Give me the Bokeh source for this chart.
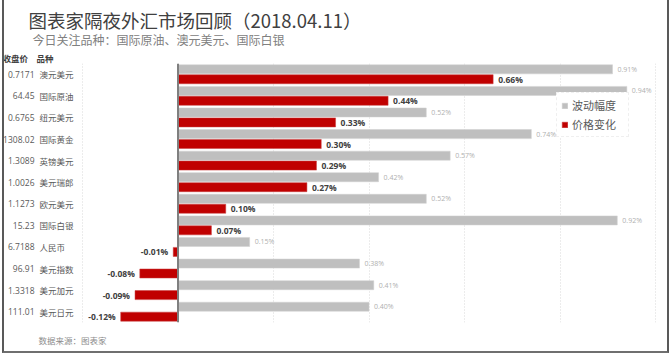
from bokeh.plotting import figure
from bokeh.models import (ColumnDataSource, FactorRange, Range1d, FixedTicker, Span,
                          LabelSet, Legend, LegendItem, Title, InlineStyleSheet)
from bokeh.transform import dodge
from bokeh.core.properties import value
from bokeh.embed import file_html
from bokeh.resources import INLINE

categories = ["澳元美元", "国际原油", "纽元美元", "国际黄金", "英镑美元", "美元瑞郎",
              "欧元美元", "国际白银", "人民币", "美元指数", "美元加元", "美元日元"]
prices = ["0.7171", "64.45", "0.6765", "1308.02", "1.3089", "1.0026",
          "1.1273", "15.23", "6.7188", "96.91", "1.3318", "111.01"]
volatility = [0.91, 0.94, 0.52, 0.74, 0.57, 0.42, 0.52, 0.92, 0.15, 0.38, 0.41, 0.40]
change = [0.66, 0.44, 0.33, 0.30, 0.29, 0.27, 0.10, 0.07, -0.01, -0.08, -0.09, -0.12]
x_ticks = [-0.2, 0.0, 0.2, 0.4, 0.6, 0.8, 1.0]

title = "图表家隔夜外汇市场回顾（2018.04.11）"
subtitle = "今日关注品种：国际原油、澳元美元、国际白银"
header = "收盘价　品种"
footer = "数据来源：图表家"

FONT = "Noto Sans CJK SC"
GRAY = "#BFBFBF"
RED = "#C00000"

W, H = 671, 354
PL, PR, FT, FB = 82, 655, 63, 323   # plot-area edges on the canvas
k = (PR - PL) / (x_ticks[-1] - x_ticks[0])   # pixels per 1 %

src = ColumnDataSource(dict(
    cat=categories, price=prices, vol=volatility, chg=change,
    vol_lbl=[f"{v:.2f}%" for v in volatility],
))
pos = [i for i, c in enumerate(change) if c >= 0]
neg = [i for i, c in enumerate(change) if c < 0]
src_pos = ColumnDataSource(dict(cat=[categories[i] for i in pos], chg=[change[i] for i in pos],
                                lbl=[f"{change[i]:.2f}%" for i in pos]))
src_neg = ColumnDataSource(dict(cat=[categories[i] for i in neg], chg=[change[i] for i in neg],
                                lbl=[f"{change[i]:.2f}%" for i in neg]))

p = figure(width=W, height=H, output_backend="svg", toolbar_location=None,
           y_range=FactorRange(factors=list(reversed(categories))),
           x_range=Range1d(x_ticks[0] - PL / k, x_ticks[-1] + (W - PR) / k),
           min_border_left=0, min_border_right=0, min_border_top=FT, min_border_bottom=H - FB)
p.outline_line_color = None
p.background_fill_color = "white"
p.border_fill_color = "white"
p.xaxis.visible = False
p.yaxis.visible = False
p.ygrid.grid_line_color = None
p.xgrid.ticker = FixedTicker(ticks=x_ticks)
p.xgrid.grid_line_color = "#D9D9D9"
p.xgrid.grid_line_dash = "1 2"
p.xgrid.grid_line_width = 1

g = p.hbar(y=dodge("cat", 0.23, range=p.y_range), right="vol", left=0, height=0.42,
           source=src, fill_color=GRAY, line_color="#D0D0D0", line_width=0.5)
r = p.hbar(y=dodge("cat", -0.23, range=p.y_range), right="chg", left=0, height=0.42,
           source=src, fill_color=RED, line_color="#C84040", line_width=0.5)

p.add_layout(Span(location=0, dimension="height", line_color="#7F7F7F", line_width=2))

# value labels
p.add_layout(LabelSet(x="vol", y=dodge("cat", 0.23, range=p.y_range), text="vol_lbl", source=src,
                      x_offset=5, text_font=value("Open Sans"), text_font_size="7px",
                      text_color="#B0B0B0", text_baseline="middle"))
p.add_layout(LabelSet(x="chg", y=dodge("cat", -0.23, range=p.y_range), text="lbl", source=src_pos,
                      x_offset=5, text_font=value("Open Sans"), text_font_size="8.5px",
                      text_font_style="bold", text_color="#404040", text_baseline="middle"))
p.add_layout(LabelSet(x="chg", y=dodge("cat", -0.23, range=p.y_range), text="lbl", source=src_neg,
                      x_offset=-5, text_font=value("Open Sans"), text_font_size="8.5px",
                      text_font_style="bold", text_color="#404040", text_baseline="middle",
                      text_align="right"))

# category labels (screen x from canvas left, which is the frame's left edge)
p.add_layout(LabelSet(x=34, x_units="screen", y="cat", text="price", source=src,
                      text_font=value("Open Sans"), text_font_size="8.5px",
                      text_color="#595959", text_baseline="middle", text_align="right"))
p.add_layout(LabelSet(x=39, x_units="screen", y="cat", text="cat", source=src,
                      text_font=value(FONT), text_font_size="8.5px",
                      text_color="#595959", text_baseline="middle", text_align="left"))

# titles: first added sits nearest the frame
p.title.text = ""
p.add_layout(Title(text=header, align="left", offset=2, standoff=0, vertical_align="bottom",
                   text_font=FONT, text_font_size="8.5px", text_font_style="bold",
                   text_color="#404040"), "above")
p.add_layout(Title(text=subtitle, align="left", offset=32, standoff=0, vertical_align="top",
                   text_font=FONT, text_font_size="12px", text_font_style="normal",
                   text_color="#808080"), "above")
p.add_layout(Title(text=title, align="left", offset=28, standoff=-4, vertical_align="bottom",
                   text_font=FONT, text_font_size="18.5px", text_font_style="normal",
                   text_color="#404040"), "above")
p.add_layout(Title(text=footer, align="left", offset=38, standoff=18, vertical_align="bottom",
                   text_font=FONT, text_font_size="8.5px", text_font_style="normal",
                   text_color="#8C8C8C"), "below")

# legend
legend = Legend(items=[LegendItem(label="波动幅度", renderers=[g]),
                       LegendItem(label="价格变化", renderers=[r])],
                location=(556, FB - 138), orientation="vertical",
                label_text_font=FONT, label_text_font_size="11px", label_text_color="#595959",
                glyph_width=7, glyph_height=7, label_standoff=4, spacing=3,
                padding=4, margin=0, label_height=14, label_width=52,
                border_line_color="#E0E0E0", border_line_dash="2 2",
                background_fill_alpha=1.0)
p.add_layout(legend)

p.stylesheets = [InlineStyleSheet(css="""
:host::after { content: ''; position: absolute; left: 2px; top: 0px; width: 667px; height: 353px;
  border-left: 2px solid #595959; border-right: 2px solid #595959; border-bottom: 2px solid #6f6f6f;
  box-sizing: border-box; pointer-events: none; }
""")]

open("out.html", "w").write(file_html(p, INLINE))
